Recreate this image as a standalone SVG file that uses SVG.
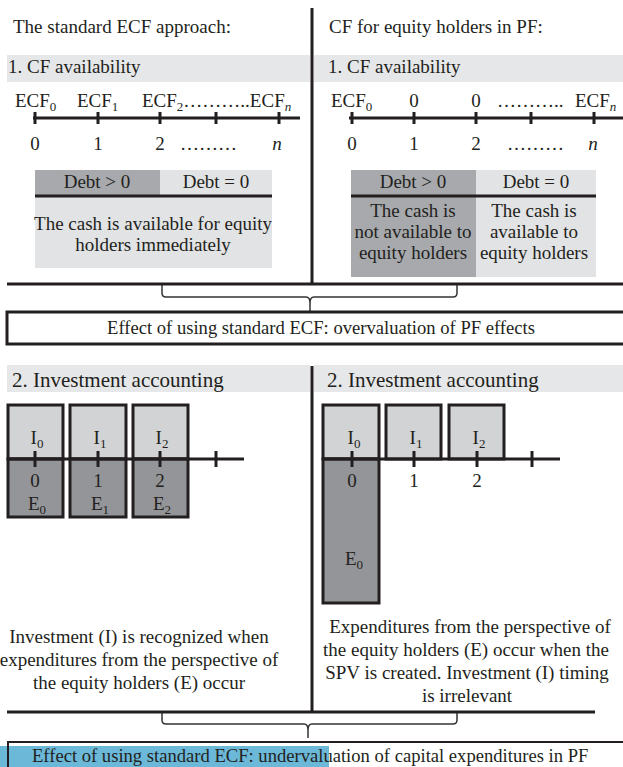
<svg xmlns="http://www.w3.org/2000/svg" width="623" height="767" viewBox="0 0 623 767">
<style>
text{font-family:"Liberation Serif","Times New Roman",serif;font-size:19px;fill:#231f20}
.h2{font-size:21px}
.eff{font-size:18.6px}
.m{text-anchor:middle}
.sub{font-size:13px}
.it{font-style:italic}
.thick{stroke:#231f20;stroke-width:3;fill:none}
.tick{stroke:#231f20;stroke-width:3}
.brace{stroke:#333;stroke-width:1.5;fill:none}
.band{fill:#e6e7e8}
.lt{fill:#e2e3e4}
.dk{fill:#a7a9ac}
.itop{fill:#d1d3d4;stroke:#231f20;stroke-width:3}
.ibot{fill:#939598;stroke:#231f20;stroke-width:3}
</style>
<rect width="623" height="767" fill="#fff"/>

<g id="connectors">
<line class="thick" x1="312" y1="8" x2="312" y2="284"/>
<line class="thick" x1="7" y1="284" x2="623" y2="284"/>
<path class="brace" d="M162,285 V293 Q162,297 166,297 H306 Q310,297 310,303 V311 M310,303 Q310,297 314,297 H453 Q457,297 457,293 V285"/>
<line class="thick" x1="312" y1="366" x2="312" y2="712"/>
<line class="thick" x1="7" y1="712" x2="595" y2="712"/>
<path class="brace" d="M162,713 V720 Q162,724 166,724 H304 Q308,724 308,730 V738 M308,730 Q308,724 312,724 H453 Q457,724 457,720 V713"/>
</g>

<g id="left-title"><text x="13" y="33">The standard ECF approach:</text></g>
<g id="right-title"><text x="329" y="33">CF for equity holders in PF:</text></g>

<g id="left-band1"><rect class="band" x="7" y="55" width="303" height="27"/><text x="8" y="73">1. CF availability</text></g>
<g id="right-band1"><rect class="band" x="314" y="55" width="309" height="27"/><text x="328" y="73">1. CF availability</text></g>

<g id="left-timeline">
<line class="thick" x1="33" y1="118" x2="300" y2="118"/>
<line class="tick" x1="35" y1="112" x2="35" y2="124"/>
<line class="tick" x1="98" y1="112" x2="98" y2="124"/>
<line class="tick" x1="160" y1="112" x2="160" y2="124"/>
<line class="tick" x1="216" y1="112" x2="216" y2="124"/>
<line class="tick" x1="279" y1="112" x2="279" y2="124"/>
<text x="15" y="107">ECF<tspan class="sub" dy="4">0</tspan></text>
<text x="77" y="107">ECF<tspan class="sub" dy="4">1</tspan></text>
<text x="142" y="107">ECF<tspan class="sub" dy="4">2</tspan><tspan dy="-4">………..ECF</tspan><tspan class="sub it" dy="4">n</tspan></text>
<text class="m" x="35" y="150">0</text>
<text class="m" x="98" y="150">1</text>
<text class="m" x="160" y="150">2</text>
<text x="180" y="150">………</text>
<text class="m it" x="277" y="150">n</text>
</g>

<g id="right-timeline">
<line class="thick" x1="349" y1="118" x2="623" y2="118"/>
<line class="tick" x1="352" y1="112" x2="352" y2="124"/>
<line class="tick" x1="414" y1="112" x2="414" y2="124"/>
<line class="tick" x1="476" y1="112" x2="476" y2="124"/>
<line class="tick" x1="531" y1="112" x2="531" y2="124"/>
<line class="tick" x1="594" y1="112" x2="594" y2="124"/>
<text x="331" y="107">ECF<tspan class="sub" dy="4">0</tspan></text>
<text class="m" x="414" y="107">0</text>
<text class="m" x="476" y="107">0</text>
<text x="497" y="107">………..</text>
<text x="575" y="107">ECF<tspan class="sub it" dy="4">n</tspan></text>
<text class="m" x="352" y="150">0</text>
<text class="m" x="414" y="150">1</text>
<text class="m" x="476" y="150">2</text>
<text x="507" y="150">………</text>
<text class="m it" x="593" y="150">n</text>
</g>

<g id="left-debt-table">
<rect class="dk" x="35" y="170" width="125" height="26"/>
<rect class="lt" x="160" y="170" width="112" height="26"/>
<rect class="lt" x="35" y="196" width="237" height="72"/>
<line class="thick" x1="35" y1="196" x2="272" y2="196"/>
<text class="m" x="97" y="188">Debt &gt; 0</text>
<text class="m" x="216" y="188">Debt = 0</text>
<text class="m" x="153" y="230">The cash is available for equity</text>
<text class="m" x="153" y="251">holders immediately</text>
</g>

<g id="right-debt-table">
<rect class="dk" x="351" y="170" width="125" height="107"/>
<rect class="lt" x="476" y="170" width="120" height="107"/>
<line class="thick" x1="351" y1="196" x2="596" y2="196"/>
<text class="m" x="413" y="188">Debt &gt; 0</text>
<text class="m" x="536" y="188">Debt = 0</text>
<text class="m" x="413" y="217">The cash is</text>
<text class="m" x="413" y="238">not available to</text>
<text class="m" x="413" y="259">equity holders</text>
<text class="m" x="534" y="217">The cash is</text>
<text class="m" x="534" y="238">available to</text>
<text class="m" x="534" y="259">equity holders</text>
</g>

<g id="effect-overvaluation">
<rect x="7" y="312" width="640" height="32" fill="#fff" stroke="#231f20" stroke-width="3"/>
<text class="m eff" x="321" y="334">Effect of using standard ECF: overvaluation of PF effects</text>
</g>

<g id="left-band2"><rect class="band" x="7" y="365" width="303" height="27"/><text class="h2" x="12" y="387">2. Investment accounting</text></g>
<g id="right-band2"><rect class="band" x="314" y="365" width="309" height="27"/><text class="h2" x="327" y="387">2. Investment accounting</text></g>

<g id="left-investment">
<rect class="itop" x="8" y="405" width="55" height="54"/>
<rect class="ibot" x="8" y="459" width="55" height="58"/>
<rect class="itop" x="70" y="405" width="56" height="54"/>
<rect class="ibot" x="70" y="459" width="56" height="58"/>
<rect class="itop" x="133" y="405" width="55" height="54"/>
<rect class="ibot" x="133" y="459" width="55" height="58"/>
<line class="thick" x1="8" y1="459" x2="244" y2="459"/>
<line class="tick" x1="35" y1="451" x2="35" y2="467"/>
<line class="tick" x1="98" y1="451" x2="98" y2="467"/>
<line class="tick" x1="160" y1="451" x2="160" y2="467"/>
<line class="tick" x1="216" y1="451" x2="216" y2="467"/>
<text class="m" x="37" y="444">I<tspan class="sub" dy="4">0</tspan></text>
<text class="m" x="100" y="444">I<tspan class="sub" dy="4">1</tspan></text>
<text class="m" x="162" y="444">I<tspan class="sub" dy="4">2</tspan></text>
<text class="m" x="35" y="487">0</text>
<text class="m" x="98" y="487">1</text>
<text class="m" x="160" y="487">2</text>
<text class="m" x="37" y="510">E<tspan class="sub" dy="4">0</tspan></text>
<text class="m" x="100" y="510">E<tspan class="sub" dy="4">1</tspan></text>
<text class="m" x="162" y="510">E<tspan class="sub" dy="4">2</tspan></text>
</g>

<g id="right-investment">
<rect class="itop" x="323" y="405" width="56" height="54"/>
<rect class="ibot" x="323" y="459" width="56" height="144"/>
<rect class="itop" x="386" y="405" width="55" height="54"/>
<rect class="itop" x="449" y="405" width="55" height="54"/>
<line class="thick" x1="323" y1="459" x2="560" y2="459"/>
<line class="tick" x1="352" y1="451" x2="352" y2="467"/>
<line class="tick" x1="414" y1="451" x2="414" y2="467"/>
<line class="tick" x1="477" y1="451" x2="477" y2="467"/>
<line class="tick" x1="532" y1="451" x2="532" y2="467"/>
<text class="m" x="354" y="444">I<tspan class="sub" dy="4">0</tspan></text>
<text class="m" x="416" y="444">I<tspan class="sub" dy="4">1</tspan></text>
<text class="m" x="479" y="444">I<tspan class="sub" dy="4">2</tspan></text>
<text class="m" x="352" y="487">0</text>
<text class="m" x="414" y="487">1</text>
<text class="m" x="477" y="487">2</text>
<text class="m" x="354" y="565">E<tspan class="sub" dy="4">0</tspan></text>
</g>

<g id="left-note">
<text class="m" x="139" y="643">Investment (I) is recognized when</text>
<text class="m" x="139" y="666">expenditures from the perspective of</text>
<text class="m" x="139" y="689">the equity holders (E) occur</text>
</g>
<g id="right-note">
<text class="m" x="470" y="633">Expenditures from the perspective of</text>
<text class="m" x="466" y="656">the equity holders (E) occur when the</text>
<text class="m" x="467" y="679">SPV is created. Investment (I) timing</text>
<text class="m" x="467" y="702">is irrelevant</text>
</g>

<g id="effect-undervaluation">
<rect x="0" y="746" width="329" height="21" fill="#6bb8d9"/>
<rect x="8" y="742" width="640" height="40" fill="none" stroke="#231f20" stroke-width="2"/>
<text class="eff" x="32" y="762">Effect of using standard ECF: undervaluation of capital expenditures in PF</text>
</g>
</svg>
